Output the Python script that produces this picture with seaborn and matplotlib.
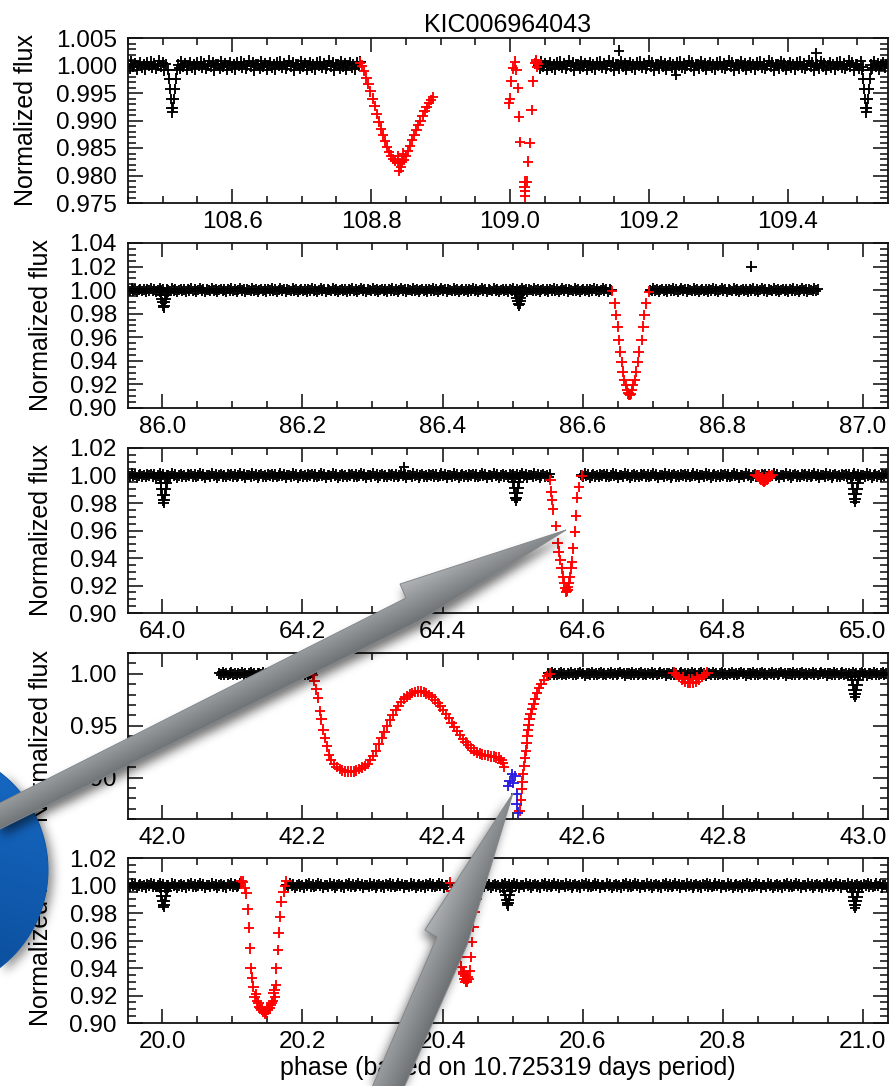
import numpy as np
import pandas as pd
import matplotlib
matplotlib.use("Agg")
import matplotlib.pyplot as plt
import seaborn as sns
from matplotlib.ticker import MultipleLocator, FormatStrFormatter
from matplotlib.path import Path
from matplotlib.patches import Polygon
from matplotlib.colors import to_rgb

# ---------------------------------------------------------------- labels
TITLE = "KIC006964043"
X_LABEL = "phase (based on 10.725319 days period)"
Y_LABEL = "Normalized flux"

# ---------------------------------------------------------------- axes ranges per panel (top to bottom)
X_RANGES = [(108.450, 109.544), (85.951, 87.036), (63.951, 65.036),
            (41.951, 43.036), (19.951, 21.036)]
Y_RANGES = [(0.975, 1.005), (0.90, 1.04), (0.90, 1.02), (0.86, 1.02), (0.90, 1.02)]
Y_MAJOR = [0.005, 0.02, 0.02, 0.05, 0.02]
Y_MINOR = [0.001, 0.005, 0.005, 0.01, 0.005]
Y_FORMAT = ["%.3f", "%.2f", "%.2f", "%.2f", "%.2f"]

# ---------------------------------------------------------------- out-of-eclipse stretches
BASELINE_SEGMENTS = [
    [(108.450, 108.506), (108.522, 108.786), (109.040, 109.508), (109.519, 109.544)],
    [(85.951, 86.642), (86.696, 86.936)],
    [(63.951, 64.556), (64.598, 65.036)],
    [(42.081, 42.215), (42.551, 43.036)],
    [(19.951, 20.113), (20.177, 20.409), (20.457, 21.036)],
]
BASELINE_SCATTER = [0.0009, 0.0015, 0.0015, 0.0015, 0.0016]
CADENCE = 0.0025
JITTER = [0.2, -0.6, 0.9, -0.3, 0.5, -0.9, 0.1, 0.7, -0.5, 0.3, -0.8, 0.6,
          -0.1, 0.8, -0.4, 0.4, -0.7, 0.0, 1.0, -0.2, 0.6, -1.0, 0.3]

# shallow eclipses of the inner pair (black): centre and depth per panel
SHALLOW_CENTRES = [[108.514, 109.513], [86.002, 86.509], [64.002, 64.505, 64.989],
                   [42.989], [20.002, 20.493, 20.989]]
SHALLOW_DEPTHS = [[0.0085, 0.0085], [0.0145, 0.013], [0.020, 0.018, 0.019],
                  [0.022], [0.0155, 0.0145, 0.016]]
SHALLOW_DT = [-0.0060, -0.0045, -0.0032, -0.0020, -0.0010, 0.0,
              0.0010, 0.0020, 0.0032, 0.0045, 0.0060]
SHALLOW_FRAC = [0.10, 0.28, 0.50, 0.72, 0.90, 1.00, 0.90, 0.72, 0.50, 0.28, 0.10]

# isolated black points
OUTLIER_T = [[109.157, 109.239, 109.441], [86.841], [64.345], [], []]
OUTLIER_F = [[1.0027, 0.9983, 1.0022], [1.020], [1.006], [], []]

# ---------------------------------------------------------------- eclipse points (red)
RED_T_1 = [108.784, 108.787, 108.790, 108.793, 108.796, 108.799, 108.802, 108.805,
           108.808, 108.811, 108.814, 108.817, 108.820, 108.823, 108.826, 108.829,
           108.832, 108.835, 108.838, 108.841, 108.844, 108.847, 108.850, 108.853,
           108.856, 108.859, 108.862, 108.865, 108.868, 108.871, 108.874, 108.877,
           108.880, 108.883, 108.886, 108.889, 108.840, 108.843, 108.838, 108.846,
           109.007, 109.004, 109.009, 109.002, 109.0115, 108.9996, 108.9986, 109.013,
           109.014, 109.026, 109.021, 109.021, 109.0215, 109.0215, 109.038, 109.033,
           109.031, 109.028, 109.024, 109.036, 109.038, 109.040, 109.039]
RED_F_1 = [1.0005, 1.0000, 0.9990, 0.9978, 0.9966, 0.9953, 0.9940, 0.9926,
           0.9912, 0.9898, 0.9885, 0.9873, 0.9862, 0.9852, 0.9843, 0.9836,
           0.9830, 0.9826, 0.9823, 0.9822, 0.9824, 0.9829, 0.9836, 0.9845,
           0.9854, 0.9864, 0.9873, 0.9882, 0.9891, 0.9900, 0.9909, 0.9917,
           0.9924, 0.9931, 0.9937, 0.9942, 0.9808, 0.9815, 0.9835, 0.9840,
           1.0007, 0.9995, 0.9992, 0.9971, 0.9959, 0.9940, 0.9931, 0.9907,
           0.9861, 0.9825, 0.9789, 0.9780, 0.9771, 0.9762, 1.0007, 0.9971,
           0.9919, 0.9859, 0.9789, 1.0004, 1.0010, 1.0002, 0.9998]

RED_T_2 = [86.6417, 86.6459, 86.6474, 86.6499, 86.6515, 86.6540, 86.6556, 86.6572,
           86.6597, 86.6621, 86.6637, 86.6654, 86.6675, 86.6660, 86.6685, 86.6703,
           86.6719, 86.6743, 86.6760, 86.6784, 86.6800, 86.6841, 86.6866, 86.6882,
           86.6906, 86.6947]
RED_F_2 = [0.9993, 0.9888, 0.9789, 0.9690, 0.9577, 0.9477, 0.9392, 0.9308,
           0.9237, 0.9195, 0.9152, 0.9124, 0.9110, 0.9115, 0.9120, 0.9152,
           0.9195, 0.9237, 0.9308, 0.9392, 0.9477, 0.9577, 0.9690, 0.9789,
           0.9888, 0.9987]

RED_T_3 = [64.5539, 64.5554, 64.5563, 64.5579, 64.5620, 64.5644, 64.5660, 64.5684,
           64.5701, 64.5726, 64.5741, 64.5758, 64.5766, 64.5775, 64.5783, 64.5790,
           64.5807, 64.5823, 64.5840, 64.5847, 64.5864, 64.5889, 64.5904, 64.5921,
           64.5946, 64.5986,
           64.847, 64.849, 64.851, 64.853, 64.855, 64.857, 64.859, 64.861, 64.863,
           64.865, 64.867, 64.869, 64.871, 64.852, 64.866, 64.856, 64.862]
RED_F_3 = [0.9967, 0.9882, 0.9822, 0.9754, 0.9633, 0.9507, 0.9446, 0.9385,
           0.9325, 0.9264, 0.9216, 0.9180, 0.9155, 0.9160, 0.9165, 0.9190,
           0.9216, 0.9260, 0.9325, 0.9373, 0.9470, 0.9591, 0.9708, 0.9839,
           0.9917, 1.0000,
           1.0005, 0.9995, 0.9988, 0.9980, 0.9970, 0.9960, 0.9952, 0.9960, 0.9970,
           0.9980, 0.9988, 0.9995, 1.0005, 1.0005, 1.0005, 0.9985, 0.9985]

RED_T_4 = [42.215, 42.217, 42.220, 42.222, 42.225, 42.227, 42.230, 42.232, 42.235,
           42.238, 42.241, 42.245, 42.249, 42.253, 42.257, 42.261, 42.265, 42.269,
           42.273, 42.277, 42.281, 42.285, 42.289, 42.293, 42.297, 42.301, 42.305,
           42.309, 42.313, 42.317, 42.321, 42.325, 42.329, 42.333, 42.337, 42.341,
           42.345, 42.349, 42.353, 42.357, 42.361, 42.365, 42.369, 42.373, 42.377,
           42.381, 42.385, 42.389, 42.393, 42.397, 42.401, 42.405, 42.409, 42.413,
           42.417, 42.421, 42.425, 42.429, 42.433, 42.437, 42.441, 42.445, 42.449,
           42.453, 42.457, 42.461, 42.465, 42.469, 42.473, 42.477, 42.481, 42.484,
           42.486, 42.488,
           42.510, 42.512, 42.513, 42.514, 42.515, 42.517, 42.518, 42.519, 42.520,
           42.521, 42.522, 42.523, 42.524, 42.526, 42.528, 42.530, 42.532, 42.535,
           42.538, 42.541, 42.545, 42.549, 42.553,
           42.730, 42.734, 42.738, 42.742, 42.746, 42.750, 42.754, 42.758, 42.762,
           42.766, 42.770, 42.774, 42.778, 42.744, 42.752, 42.756, 42.764]
RED_F_4 = [0.999, 0.993, 0.985, 0.977, 0.964, 0.956, 0.946, 0.938, 0.930,
           0.922, 0.917, 0.913, 0.910, 0.908, 0.907, 0.906, 0.9057, 0.9057,
           0.906, 0.9065, 0.908, 0.9095, 0.911, 0.913, 0.917, 0.921, 0.926,
           0.932, 0.938, 0.944, 0.950, 0.955, 0.960, 0.965, 0.969, 0.973,
           0.976, 0.978, 0.980, 0.9815, 0.9825, 0.983, 0.983, 0.9825, 0.981,
           0.9795, 0.9775, 0.975, 0.972, 0.9685, 0.965, 0.961, 0.957, 0.953,
           0.949, 0.945, 0.941, 0.937, 0.934, 0.931, 0.928, 0.926, 0.924,
           0.923, 0.922, 0.9215, 0.921, 0.9205, 0.920, 0.9195, 0.919, 0.917,
           0.914, 0.910,
           0.868, 0.878, 0.889, 0.896, 0.903, 0.911, 0.919, 0.926, 0.933,
           0.940, 0.946, 0.951, 0.956, 0.961, 0.966, 0.971, 0.976, 0.981,
           0.986, 0.990, 0.994, 0.998, 1.000,
           1.001, 0.999, 0.997, 0.9945, 0.9925, 0.9915, 0.991, 0.9915, 0.9925,
           0.9945, 0.997, 0.999, 1.001, 0.9965, 0.9950, 0.9950, 0.9965]

RED_T_5 = [20.113, 20.115, 20.118, 20.120, 20.122, 20.124, 20.125, 20.126, 20.128,
           20.130, 20.132, 20.135, 20.137, 20.140, 20.142, 20.144, 20.146, 20.148,
           20.151, 20.153, 20.156, 20.158, 20.161, 20.162, 20.163, 20.165, 20.166,
           20.168, 20.170, 20.173, 20.175, 20.177,
           20.134, 20.139, 20.143, 20.147, 20.150, 20.155, 20.159, 20.160,
           20.411, 20.413, 20.415, 20.417, 20.419, 20.421, 20.423, 20.425, 20.427,
           20.429, 20.431, 20.433, 20.435, 20.437, 20.439, 20.440, 20.442, 20.444,
           20.446, 20.449, 20.452, 20.455, 20.432, 20.434, 20.436, 20.430]
RED_F_5 = [1.003, 1.0028, 0.998, 0.9943, 0.9827, 0.9694, 0.9543, 0.9398, 0.933,
           0.9264, 0.9191, 0.916, 0.9143, 0.911, 0.9095, 0.908, 0.907, 0.9075,
           0.9095, 0.911, 0.9143, 0.916, 0.919, 0.9276, 0.9398, 0.953, 0.9657,
           0.9773, 0.9882, 0.9955, 1.000, 1.003,
           0.921, 0.912, 0.910, 0.9085, 0.910, 0.913, 0.922, 0.924,
           1.002, 0.996, 0.988, 0.980, 0.972, 0.964, 0.956, 0.948, 0.941,
           0.936, 0.932, 0.930, 0.930, 0.932, 0.938, 0.948, 0.959, 0.970,
           0.981, 0.990, 0.997, 1.001, 0.934, 0.9315, 0.9335, 0.937]

RED_T = [RED_T_1, RED_T_2, RED_T_3, RED_T_4, RED_T_5]
RED_F = [RED_F_1, RED_F_2, RED_F_3, RED_F_4, RED_F_5]

# ---------------------------------------------------------------- flagged points (blue, fourth panel)
BLUE_T = [[], [], [], [42.499, 42.504, 42.496, 42.501, 42.494, 42.506, 42.506, 42.508], []]
BLUE_F = [[], [], [], [0.9029, 0.9013, 0.8965, 0.8950, 0.8917, 0.8837, 0.8740, 0.8660], []]

PALETTE = {"base": "#000000", "eclipse": "#ff0000", "flag": "#2a1de0"}


def panel_frame(i):
    """Collect the points of one panel into a tidy table."""
    t_parts, f_parts, k_parts = [], [], []
    amp = BASELINE_SCATTER[i]
    for a, b in BASELINE_SEGMENTS[i]:
        t = np.arange(a, b, CADENCE)
        t_parts.append(t)
        f_parts.append(1.0 + amp * np.resize(np.array(JITTER), t.size))
        k_parts.append(["base"] * t.size)
    for c, d in zip(SHALLOW_CENTRES[i], SHALLOW_DEPTHS[i]):
        t_parts.append(c + np.array(SHALLOW_DT))
        f_parts.append(1.0 - d * np.array(SHALLOW_FRAC))
        k_parts.append(["base"] * len(SHALLOW_DT))
    t_parts.append(np.array(OUTLIER_T[i], float))
    f_parts.append(np.array(OUTLIER_F[i], float))
    k_parts.append(["base"] * len(OUTLIER_T[i]))
    t_parts.append(np.array(RED_T[i], float))
    f_parts.append(np.array(RED_F[i], float))
    k_parts.append(["eclipse"] * len(RED_T[i]))
    t_parts.append(np.array(BLUE_T[i], float))
    f_parts.append(np.array(BLUE_F[i], float))
    k_parts.append(["flag"] * len(BLUE_T[i]))
    return pd.DataFrame({"t": np.concatenate(t_parts),
                         "flux": np.concatenate(f_parts),
                         "kind": sum(k_parts, [])})


sns.set_theme(style="ticks")
plt.rcParams["font.family"] = ["Liberation Sans", "DejaVu Sans"]
plt.rcParams["axes.linewidth"] = 1.3
plt.rcParams["axes.edgecolor"] = "#111111"
plt.rcParams["text.color"] = "black"
plt.rcParams["axes.labelcolor"] = "black"
plt.rcParams["axes.titlecolor"] = "black"

W, H = 894, 1086
fig = plt.figure(figsize=(W / 100, H / 100), dpi=100)
fig.patch.set_facecolor("white")

# panel frames in pixel rows (top, bottom)
rows = [(38, 203), (243, 408), (448, 613), (653, 819), (858, 1023)]
left_px, right_px = 128, 888
ylabel_x = [-0.118, -0.099, -0.099, -0.099, -0.099]

for i, (top, bot) in enumerate(rows):
    ax = fig.add_axes([left_px / W, 1 - bot / H, (right_px - left_px) / W, (bot - top) / H])
    df = panel_frame(i)
    sns.scatterplot(data=df, x="t", y="flux", hue="kind", palette=PALETTE,
                    marker="+", s=58, linewidth=1.35, legend=False, ax=ax,
                    clip_on=True)
    ax.set_xlim(*X_RANGES[i])
    ax.set_ylim(*Y_RANGES[i])
    ax.xaxis.set_major_locator(MultipleLocator(0.2))
    ax.xaxis.set_minor_locator(MultipleLocator(0.05))
    ax.xaxis.set_major_formatter(FormatStrFormatter("%.1f"))
    ax.yaxis.set_major_locator(MultipleLocator(Y_MAJOR[i]))
    ax.yaxis.set_minor_locator(MultipleLocator(Y_MINOR[i]))
    ax.yaxis.set_major_formatter(FormatStrFormatter(Y_FORMAT[i]))
    ax.tick_params(axis="both", which="both", direction="in", top=True, right=True,
                   colors="#111111", labelcolor="black", labelsize=17.5, width=1.15)
    ax.tick_params(axis="x", which="major", length=10, pad=6)
    ax.tick_params(axis="x", which="minor", length=5)
    ax.tick_params(axis="y", which="major", length=11, pad=8)
    ax.tick_params(axis="y", which="minor", length=6)
    for sp in ax.spines.values():
        sp.set_visible(True)
        sp.set_linewidth(1.3)
    ax.set_ylabel(Y_LABEL, fontsize=18)
    ax.yaxis.set_label_coords(ylabel_x[i], 0.5)
    ax.set_xlabel("")
    if i == 0:
        ax.set_title(TITLE, fontsize=18, pad=4)
    if i == 4:
        ax.set_xlabel(X_LABEL, fontsize=18)
        ax.xaxis.set_label_coords(0.5, -0.20)

# ---------------------------------------------------------------- callout shapes on top
ov = fig.add_axes([0, 0, 1, 1], zorder=20)
ov.axis("off")

yy, xx = np.mgrid[0:H, 0:W] + 0.5
grid_pts = np.column_stack([xx.ravel(), yy.ravel()])


def gauss_blur(a, sigma):
    r = int(3 * sigma)
    k = np.exp(-0.5 * (np.arange(-r, r + 1) / sigma) ** 2)
    k /= k.sum()
    a = np.apply_along_axis(lambda v: np.convolve(v, k, mode="same"), 1, a)
    a = np.apply_along_axis(lambda v: np.convolve(v, k, mode="same"), 0, a)
    return a


def shifted(a, dx, dy):
    out = np.zeros_like(a)
    ys = slice(max(dy, 0), H + min(dy, 0))
    yd = slice(max(-dy, 0), H + min(-dy, 0))
    xs = slice(max(dx, 0), W + min(dx, 0))
    xd = slice(max(-dx, 0), W + min(-dx, 0))
    out[ys, xs] = a[yd, xd]
    return out


def draw_shadow(mask, dx, dy, sigma, alpha, z):
    b = gauss_blur(shifted(mask, dx, dy), sigma)
    rgba = np.zeros((H, W, 4))
    rgba[..., 3] = np.clip(b * alpha, 0, 1)
    ov.imshow(rgba, extent=(0, W, H, 0), origin="upper", zorder=z,
              interpolation="nearest", aspect="auto")


def draw_gradient_shape(pts, c_light, c_dark, normal, z, edge):
    pts = np.asarray(pts, float)
    x0, y0 = pts.min(0) - 2
    x1, y1 = pts.max(0) + 2
    nx, ny = int(x1 - x0), int(y1 - y0)
    gx, gy = np.meshgrid(np.linspace(x0, x1, nx), np.linspace(y0, y1, ny))
    proj = gx * normal[0] + gy * normal[1]
    pv = pts @ np.asarray(normal)
    w = np.clip((proj - pv.min()) / (pv.max() - pv.min()), 0, 1)[..., None]
    rgb = (1 - w) * np.array(to_rgb(c_light)) + w * np.array(to_rgb(c_dark))
    im = ov.imshow(rgb, extent=(x0, x1, y1, y0), origin="upper", zorder=z,
                   interpolation="bilinear", aspect="auto")
    clip = Polygon(pts, closed=True, facecolor="none", edgecolor="none",
                   transform=ov.transData)
    ov.add_patch(clip)
    im.set_clip_path(clip)
    ov.add_patch(Polygon(pts, closed=True, facecolor="none", edgecolor=edge,
                         lw=0.7, zorder=z + 0.1))


# blue disc at the left margin
theta = np.linspace(0, 2 * np.pi, 240)
disc = np.column_stack([-75 + 123 * np.cos(theta), 870 + 123 * np.sin(theta)])
disc_mask = ((xx + 75) ** 2 + (yy - 870) ** 2 <= 123 ** 2).astype(float)
draw_shadow(disc_mask, 5, 4, 5, 0.45, 1)
draw_gradient_shape(disc, "#1668c2", "#0a4a96", (-0.3, 0.95), 2, "#0b55a8")

# first arrow, pointing at the deep eclipse of the third panel
arrow1 = [(566, 530), (400, 584), (406, 598), (-6, 806), (-6, 832), (421, 620)]
m1 = Path(arrow1).contains_points(grid_pts).reshape(H, W).astype(float)
draw_shadow(m1, 2, 7, 5, 0.55, 3)
draw_gradient_shape(arrow1, "#b2b5b7", "#6c7072", (0.451, 0.893), 4, "#84888a")

# second arrow, pointing at the flagged points of the fourth panel
arrow2 = [(513, 793), (425, 930), (437, 937), (370, 1092), (402, 1092), (467, 945)]
m2 = Path(arrow2).contains_points(grid_pts).reshape(H, W).astype(float)
draw_shadow(m2, -3, 5, 5, 0.55, 5)
draw_gradient_shape(arrow2, "#b0b3b5", "#6c7072", (0.916, 0.40), 6, "#84888a")

ov.set_xlim(0, W)
ov.set_ylim(H, 0)

fig.savefig("out.png", dpi=100, facecolor="white")
